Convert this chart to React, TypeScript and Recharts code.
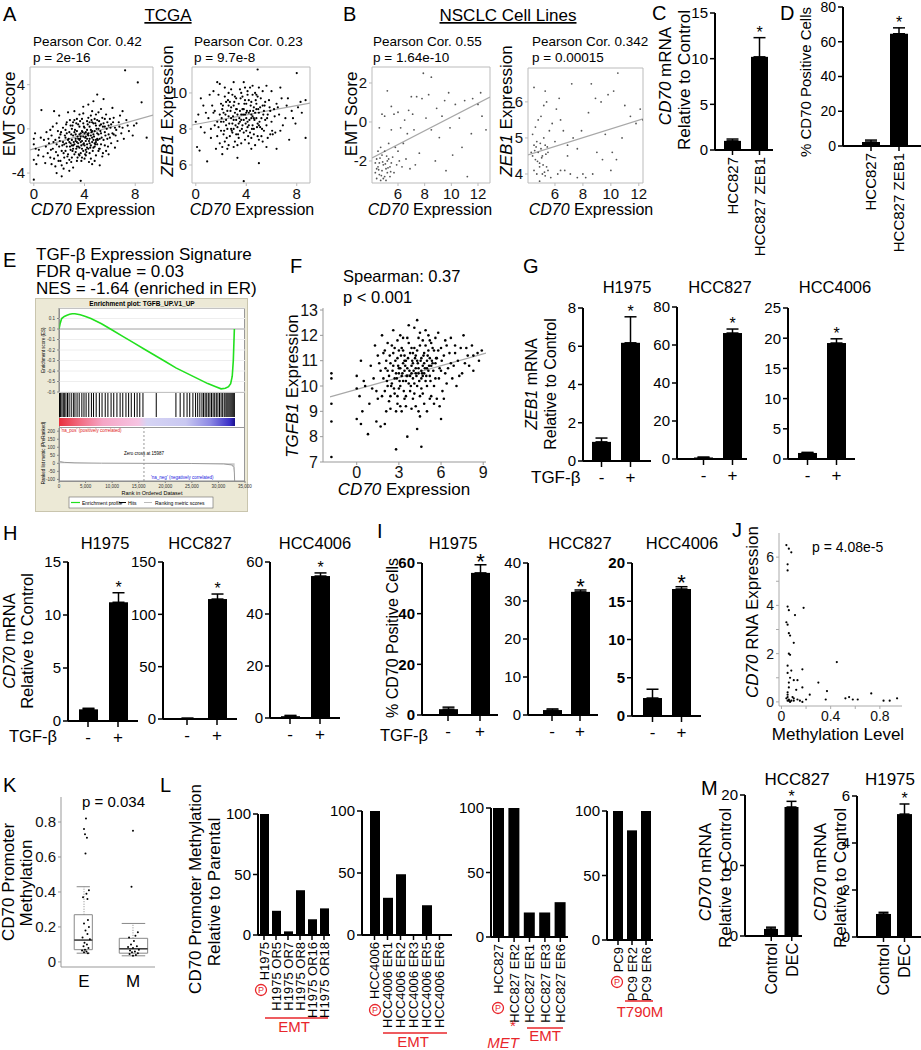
import React from "react";
import {
  Area,
  AreaChart,
  Bar,
  CartesianGrid,
  ComposedChart,
  ErrorBar,
  Line,
  LineChart,
  ReferenceArea,
  ReferenceLine,
  Scatter,
  ScatterChart,
  XAxis,
  YAxis,
} from "recharts";

const FONT = '"Liberation Sans", Arial, Helvetica, sans-serif';
const RED = "#e8262b";

type Pt = [number, number];
type Rect = { x0: number; y0: number; x1: number; y1: number };

// ---- A: TCGA ----
const tcgaEmt: Pt[] = [
  [7.2, 5.3], [8.2, 4.2], [8.5, 2.4], [0, -4.6], [0, -2.8], [3.7, -4.7], [0.6, 1.7], [1.6, 1.6], [8.9, -0.8], [5, 3.1],
  [5.5, 2.7], [4.6, -3.2], [5.2, -3.3], [2.2, -4.3], [1.8, -4], [0, -0.9], [0, -1.4], [0.1, -0.4], [7.9, 0.3], [6.2, 1.9],
  [6.8, 1.2], [7.5, -0.2], [7.3, 0.8], [8.1, 0.5], [6.4, -1.7], [5.9, -2.3], [0.9, -3.1], [1.4, -3.2], [2.8, -3.8], [1.1, -2.2],
  [0.4, -1.9], [1.3, -0.1], [1.8, 0.5], [2, 1.2], [3.2, 1.6], [3.6, 1.3], [4.3, 2.2], [4.7, 2.5], [3.9, 2.0], [2.7, 1.5],
  [2.1, -0.5], [2.3, -1.2], [2.5, -0.8], [2.6, -1.6], [2.8, -0.3], [2.9, -1.9], [3.0, -1.0], [3.1, -0.6], [3.2, -1.4], [3.3, -2.1],
  [3.4, -0.2], [3.5, -0.9], [3.6, -1.7], [3.7, -0.4], [3.8, -1.1], [3.9, -0.7], [4.0, -1.5], [4.1, -0.3], [4.2, -0.9], [4.3, -1.8],
  [4.4, 0.2], [4.5, -0.6], [4.6, -1.2], [4.7, 0.5], [4.8, -0.2], [4.9, -1.0], [5.0, 0.8], [5.1, -0.5], [5.2, 0.3], [5.3, -1.4],
  [5.4, 1.0], [5.6, -0.3], [5.8, 0.6], [6.0, -0.8], [6.1, 0.4], [6.3, 1.0], [6.5, -0.1], [6.7, 0.6], [7.0, 0.1], [7.1, -0.9],
  [1.5, -1.8], [1.7, -1.0], [1.9, -2.4], [2.0, -1.6], [2.2, -2.0], [2.4, -2.6], [2.5, -0.1], [2.7, -2.3], [2.9, 0.3], [3.0, -2.6],
  [3.1, 0.6], [3.3, -0.9], [3.4, -1.6], [3.5, 0.4], [3.6, -2.4], [3.7, -1.2], [3.8, 0.9], [3.9, -2.0], [4.0, 0.1], [4.1, -1.9],
  [4.2, 0.7], [4.3, -0.4], [4.4, -1.3], [4.5, 1.2], [4.6, -0.8], [4.7, -1.7], [4.8, 0.9], [4.9, -2.4], [5.0, -0.4], [5.1, 1.5],
  [5.2, -1.8], [5.3, 0.4], [5.5, -1.0], [5.7, 1.3], [5.9, -0.5], [6.0, 0.9], [1.2, -1.3], [1.4, -0.6], [1.6, -2.7], [1.8, -1.4],
  [2.0, -0.8], [2.1, -2.9], [2.3, 0.1], [2.4, -1.4], [2.6, 0.6], [2.7, -1.0], [2.8, -2.8], [3.0, 0.0], [3.1, -1.8], [3.2, 0.8],
  [3.3, -0.5], [3.4, -2.9], [3.5, -1.3], [3.6, 0.2], [3.7, -2.2], [3.8, -0.2], [3.9, 0.5], [4.0, -2.7], [4.1, -0.7], [4.2, -1.4],
  [4.3, 1.0], [4.4, -2.2], [4.5, -0.1], [4.6, 0.6], [4.7, -1.0], [4.8, -2.9], [4.9, 0.3], [5.0, -1.4], [5.1, 0.0], [5.2, -0.9],
  [5.4, -2.5], [5.5, 0.5], [5.6, -1.5], [5.8, -0.9], [6.2, -0.4], [6.6, -1.1], [0.8, -1.0], [1.0, -0.3], [1.3, -2.6], [1.5, 0.2],
  [1.7, -3.4], [1.9, -0.2], [2.2, -3.3], [2.5, -2.0], [2.6, -3.1], [2.9, -1.3], [3.1, -3.5], [3.2, -2.3], [3.4, 0.9], [3.6, -1.0],
  [3.8, -2.6], [3.9, 1.4], [4.1, -2.4], [4.2, -0.1], [4.4, 0.6], [4.5, -2.7], [4.6, 1.6], [4.8, -1.3], [4.9, 1.3], [5.1, -2.0],
  [5.3, 1.8], [5.6, 0.2], [5.7, -2.0], [6.1, -1.3], [6.4, 0.1], [6.9, -0.4],
  [2.05, -1.1], [2.15, -0.3], [2.35, -2.2], [2.45, -0.6], [2.55, -1.3], [2.65, -2.5], [2.75, -0.9], [2.85, -1.6], [2.95, -0.5], [3.05, -2.0],
  [3.15, -1.2], [3.25, -0.1], [3.35, -1.8], [3.45, -0.7], [3.55, -2.3], [3.65, -0.9], [3.75, -1.5], [3.85, -0.3], [3.95, -1.3], [4.05, -0.8],
  [4.15, -2.1], [4.25, -0.5], [4.35, -1.1], [4.45, -1.7], [4.55, -0.3], [4.65, -2.0], [4.75, -0.7], [4.85, -1.4], [4.95, 0.0], [5.05, -1.0],
  [5.15, -1.8], [5.25, -0.2], [5.35, -0.8], [5.45, 0.2], [5.65, -0.6], [5.85, -1.6], [6.05, 0.1], [6.25, 0.6], [6.45, -0.6], [6.75, 0.2],
  [2.25, -1.5], [2.55, 0.4], [2.85, 0.8], [3.05, 0.3], [3.35, 0.5], [3.65, 0.7], [3.95, 0.2], [4.25, 0.4], [4.55, 0.8], [4.85, 0.5],
  [5.15, 0.7], [5.45, -2.2], [5.75, 0.0], [3.45, -2.6], [3.75, -2.9], [4.05, -2.3], [4.35, -3.0], [2.95, -3.0], [2.35, -3.6], [1.95, -2.9],
  [1.75, -2.1], [1.55, -1.2], [1.35, -1.9], [1.15, -0.9], [0.95, -1.6], [0.75, -2.5], [0.55, -0.8], [0.35, -2.4], [0.15, -1.8], [0.2, -3.2],
  [3.1, -1.5], [3.3, -1.1], [3.5, -1.6], [3.7, -0.7], [3.9, -1.4], [4.1, -1.1], [4.3, -0.6], [4.5, -1.5], [4.7, -0.5], [4.9, -1.2],
  [3.2, -0.3], [3.4, -1.2], [3.6, -0.5], [3.8, -1.8], [4.0, -0.4], [4.2, -1.7], [4.4, -0.9], [4.6, -0.2], [4.8, -1.6], [5.0, -0.9],
  [2.6, -0.4], [2.8, -1.2], [3.0, -1.5], [5.3, -0.4], [5.6, 0.9], [5.9, 0.3], [6.3, -0.5], [7.4, 0.3], [7.8, -0.6], [7.0, 1.6],
];
const tcgaEmtFit = [-0.3, -1.91, 9.4, 1.25];

const tcgaZeb: Pt[] = [
  [3.8, 5.1], [0.9, 6.2], [5.0, 6.1], [4.9, 11.3], [8.0, 11.1], [8.7, 7.5], [0.4, 9.7], [0.0, 8.4], [1.7, 10.6], [1.9, 10.5],
  [6.7, 10.3], [7.3, 9.7], [8.3, 9.5], [8.7, 9.6], [0.1, 7.0], [0.3, 6.8], [2.8, 10.2], [3.0, 10.6], [3.8, 10.6], [4.5, 10.4],
  [6.4, 6.9], [7.4, 7.4], [5.6, 7.0], [3.3, 6.4], [2.1, 6.6], [1.2, 7.5],
  [1.5, 8.2], [1.7, 7.6], [1.9, 8.8], [2.0, 7.9], [2.1, 9.1], [2.2, 8.4], [2.3, 7.3], [2.4, 9.5], [2.5, 8.0], [2.6, 8.7],
  [2.7, 7.6], [2.8, 9.2], [2.9, 8.3], [3.0, 7.0], [3.1, 8.9], [3.2, 9.7], [3.3, 8.1], [3.4, 7.5], [3.5, 9.0], [3.6, 8.5],
  [3.7, 9.8], [3.8, 7.8], [3.9, 8.8], [4.0, 9.4], [4.1, 8.1], [4.2, 7.2], [4.3, 9.0], [4.4, 8.6], [4.5, 9.9], [4.6, 7.7],
  [4.7, 8.9], [4.8, 9.4], [4.9, 8.3], [5.0, 7.4], [5.1, 9.2], [5.2, 8.6], [5.3, 10.1], [5.4, 7.9], [5.5, 9.5], [5.7, 8.8],
  [1.0, 8.6], [1.3, 9.3], [1.6, 6.9], [1.8, 9.9], [2.0, 8.4], [2.2, 7.7], [2.3, 9.8], [2.5, 9.0], [2.6, 7.1], [2.8, 8.6],
  [2.9, 9.9], [3.0, 8.0], [3.1, 7.3], [3.2, 8.5], [3.4, 9.4], [3.5, 7.9], [3.6, 10.0], [3.7, 8.2], [3.8, 9.1], [3.9, 7.4],
  [4.0, 8.6], [4.1, 9.9], [4.2, 8.9], [4.3, 7.8], [4.4, 9.5], [4.5, 8.2], [4.6, 9.2], [4.7, 7.1], [4.8, 8.6], [4.9, 9.8],
  [5.0, 8.9], [5.2, 7.6], [5.4, 9.0], [5.6, 8.2], [5.8, 9.6], [6.0, 8.4], [6.2, 9.1], [6.3, 7.8], [6.6, 8.8], [6.9, 8.2],
  [0.4, 8.1], [0.7, 7.8], [1.1, 9.9], [1.4, 8.9], [1.7, 8.4], [2.0, 9.4], [2.1, 7.0], [2.4, 8.5], [2.7, 9.5], [2.9, 7.8],
  [3.0, 9.3], [3.2, 7.7], [3.3, 8.8], [3.5, 8.4], [3.6, 7.2], [3.7, 9.1], [3.9, 9.6], [4.0, 7.9], [4.1, 8.4], [4.2, 9.6],
  [4.4, 7.5], [4.5, 8.7], [4.6, 8.0], [4.8, 9.9], [4.9, 7.6], [5.1, 8.1], [5.3, 9.3], [5.5, 8.5], [5.7, 7.5], [5.9, 9.0],
  [6.1, 7.7], [6.4, 9.4], [6.8, 9.7], [7.1, 8.6], [7.6, 9.0], [7.9, 8.3], [8.4, 8.9], [5.0, 10.3], [4.3, 10.3], [2.6, 10.0],
  [2.05, 8.6], [2.15, 9.3], [2.25, 7.9], [2.35, 8.8], [2.45, 7.5], [2.55, 9.6], [2.65, 8.3], [2.75, 9.0], [2.85, 7.9], [2.95, 8.7],
  [3.05, 9.5], [3.15, 8.2], [3.25, 9.1], [3.35, 7.7], [3.45, 8.6], [3.55, 9.7], [3.65, 8.0], [3.75, 8.8], [3.85, 9.4], [3.95, 8.3],
  [4.05, 9.0], [4.15, 7.6], [4.25, 8.5], [4.35, 9.3], [4.45, 8.0], [4.55, 9.0], [4.65, 8.5], [4.75, 9.6], [4.85, 8.1], [4.95, 9.1],
  [5.05, 8.4], [5.15, 9.7], [5.25, 8.0], [5.35, 8.8], [5.45, 9.3], [5.65, 8.6], [5.85, 9.2], [6.05, 7.9], [6.25, 8.7], [6.5, 9.2],
  [2.2, 8.9], [2.4, 8.2], [2.6, 9.3], [2.8, 8.0], [3.0, 8.5], [3.2, 9.1], [3.4, 8.3], [3.6, 8.8], [3.8, 8.5], [4.0, 8.9],
  [4.2, 8.2], [4.4, 8.8], [4.6, 8.6], [4.8, 9.1], [5.0, 8.2], [3.1, 9.8], [3.5, 10.2], [4.1, 10.1], [4.7, 10.0], [3.9, 10.3],
  [1.2, 8.0], [1.5, 9.0], [1.8, 8.1], [0.8, 8.9], [0.6, 9.3], [0.2, 8.8], [1.9, 7.2], [2.5, 6.9], [3.3, 7.1], [4.4, 6.9],
  [5.3, 7.3], [5.9, 7.7], [6.7, 7.9], [7.2, 9.3], [7.7, 8.6], [8.1, 9.2], [6.0, 10.1], [5.6, 10.4], [2.3, 10.3], [1.4, 10.1],
];
const tcgaZebFit = [-0.3, 8.22, 9.05, 9.44];

// ---- B: NSCLC cell lines ----
const nsclcEmt: Pt[] = [
  [4.3, -2.6], [4.4, -2.9], [4.5, -2.3], [4.6, -2.7], [4.7, -3.0], [4.8, -2.5], [4.9, -2.2], [5.0, -2.8], [5.1, -2.4], [5.2, -2.6],
  [5.3, -1.9], [5.4, -2.3], [5.5, -2.1], [5.6, -1.8], [4.6, -2.1], [4.8, -1.7], [5.0, -1.5], [5.2, -2.0], [4.5, -1.5], [4.4, -1.9],
  [5.7, -2.6], [5.9, -2.2], [6.0, -1.5], [4.9, -2.9], [5.1, -3.0], [5.4, -2.8], [4.3, -2.1], [5.8, -1.3], [4.7, -1.3], [5.3, -1.1],
  [4.8, 0.4], [5.0, 0.3], [4.6, -0.3], [5.2, 1.6], [5.5, 0.8], [5.7, 0.4], [6.2, -0.3], [6.5, 0.1], [6.8, 0.6], [7.2, -0.4],
  [7.0, 1.3], [7.4, 1.3], [7.9, 2.5], [8.5, 2.3], [8.9, 0.7], [9.1, -0.8], [9.3, 0.3], [9.8, 1.5], [10.3, 0.9], [10.6, 0.2],
  [11.0, 1.1], [11.5, -0.6], [12.0, 0.9], [12.6, -0.4], [12.3, 0.3], [11.2, -2.8], [10.1, -1.7], [9.6, -2.5], [8.5, -0.4], [8.1, 0.2],
  [7.6, -1.6], [7.3, -2.2], [6.9, -2.4], [6.6, -1.9], [6.3, -2.3], [8.8, -2.0], [9.9, -0.3], [10.8, -1.3], [7.8, 1.2], [6.0, 0.5],
  [5.5, -0.4], [6.4, -1.1], [8.3, 1.4], [9.5, 1.1], [11.6, 1.2], [12.2, 1.5], [4.55, -2.45], [4.75, -2.75], [5.05, -2.15], [5.25, -2.35],
  [4.65, -1.85], [4.85, -2.05], [5.15, -1.75], [4.4, -2.4], [5.45, -2.55], [6.1, -2.0], [6.7, -0.6], [7.1, 0.4],
];
const nsclcEmtFit = [4.05, -1.85, 12.9, 1.28];

const nsclcZeb: Pt[] = [
  [4.3, 4.6], [4.4, 4.5], [4.5, 4.8], [4.6, 4.4], [4.7, 4.9], [4.8, 4.6], [4.9, 4.3], [5.0, 4.7], [5.1, 4.5], [5.2, 5.0],
  [5.3, 4.8], [5.4, 4.2], [5.5, 4.6], [5.6, 5.2], [4.5, 4.1], [4.7, 4.0], [4.9, 4.2], [5.1, 4.0], [5.3, 3.95], [5.5, 4.1],
  [4.4, 5.1], [4.6, 5.3], [4.8, 5.5], [5.0, 5.6], [5.2, 5.9], [5.4, 6.0], [4.5, 6.4], [5.3, 6.3], [5.8, 5.4], [6.0, 4.9],
  [6.2, 4.0], [6.4, 4.1], [6.7, 4.1], [6.9, 4.5], [7.1, 4.0], [6.1, 5.8], [6.4, 5.5], [6.6, 5.2], [6.9, 4.8], [7.3, 5.0],
  [7.6, 4.7], [8.0, 4.0], [8.2, 3.9], [8.7, 4.0], [9.0, 4.6], [9.4, 4.4], [8.4, 5.7], [8.9, 6.1], [9.3, 6.0], [9.8, 6.2],
  [10.2, 6.3], [10.5, 6.8], [9.6, 5.1], [10.1, 4.6], [10.4, 4.4], [11.0, 5.9], [11.4, 5.6], [11.8, 5.4], [12.1, 5.8], [12.3, 5.5],
  [10.8, 5.0], [7.9, 5.2], [7.2, 6.5], [6.3, 6.1], [8.6, 6.5], [4.9, 3.8], [5.7, 3.9], [7.6, 3.9], [10.0, 4.1], [4.55, 4.65],
  [4.75, 4.35], [4.95, 4.85], [5.15, 4.25], [5.35, 4.55], [4.65, 4.75], [5.05, 4.45], [5.25, 4.05], [5.45, 4.75],
];
const nsclcZebFit = [4.07, 4.53, 12.3, 5.53];

// ---- C / D ----
const zebCats = ["HCC827", "HCC827 ZEB1"];
const cMean = [1.0, 10.2];
const cErr = [0.2, 2.1];
const dMean = [2.3, 64.6];
const dErr = [1.1, 3.4];
const zebStars = [false, true];

// ---- E: GSEA ----
const esRank = [0, 200, 500, 1000, 1500, 2000, 2500, 3000, 4000, 5000, 6000, 8000, 10000, 12000, 14000, 16000, 18000, 20000, 22000, 24000, 26000, 28000, 29500, 30500, 31300, 31900, 32300, 32600, 32800, 33000];
const esScore = [0, 0.05, 0.1, 0.12, 0.13, 0.14, 0.145, 0.145, 0.135, 0.12, 0.1, 0.05, -0.01, -0.07, -0.13, -0.19, -0.25, -0.31, -0.37, -0.42, -0.47, -0.52, -0.55, -0.57, -0.565, -0.55, -0.52, -0.45, -0.3, 0];
const hitRanks = [100, 300, 550, 800, 1000, 1300, 1600, 1900, 2300, 2700, 3000, 3400, 3800, 4300, 4700, 5100, 5600, 6100, 6500, 7000, 7600, 8100, 8700, 9200, 9800, 10300, 10900, 11500, 12000, 12600, 13100, 13600, 14200, 14700, 15200, 15800, 18300, 22000, 22800, 23500, 24100, 24600, 25200, 25700, 26100, 26500, 26900, 27200, 27500, 27800, 28100, 28400, 28700, 29000, 29300, 29600, 29900, 30200, 30500, 30800, 31100, 31400, 31600, 31800, 32000, 32200, 32400, 32600, 32800, 33000];
const metricRank = [0, 300, 1000, 3000, 8000, 15987, 25000, 31000, 32500, 32900, 33000, 33050];
const metricVal = [18, 10, 6, 3, 1, 0, -1, -4, -10, -25, -60, -110];
const rankTicks = [0, 5000, 10000, 15000, 20000, 25000, 30000, 35000];

// ---- F ----
const tgfbPts: Pt[] = [
  [-1.8, 7.2], [-1.8, 8.6], [-1.8, 9.3], [-1.8, 10.3], [-1.8, 10.5], [0.3, 8.5], [0.0, 8.7], [0.8, 8.1], [1.4, 8.6], [2.8, 7.5],
  [4.6, 7.6], [4.3, 8.3], [3.6, 8.0], [2.0, 8.5], [1.7, 8.4], [0.0, 10.4], [0.0, 9.9], [0.3, 11.0], [1.3, 11.6], [1.8, 12.0],
  [2.6, 12.2], [3.1, 12.0], [4.1, 12.3], [4.5, 12.1], [5.1, 12.0], [5.6, 11.9], [6.3, 11.8], [7.0, 11.6], [7.6, 12.0], [8.2, 11.6],
  [8.7, 11.0], [8.3, 10.6], [7.7, 10.9], [6.8, 10.3], [5.9, 9.2], [6.0, 8.7], [0.2, 9.6], [0.9, 9.3], [0.5, 10.2], [1.0, 10.8],
  [1.9, 10.3], [2.0, 9.8], [2.1, 11.0], [2.2, 10.6], [2.3, 9.4], [2.4, 10.9], [2.5, 10.1], [2.6, 11.3], [2.7, 9.7], [2.8, 10.5],
  [2.9, 11.1], [3.0, 9.9], [3.1, 10.7], [3.2, 11.5], [3.3, 10.2], [3.4, 9.5], [3.5, 11.0], [3.6, 10.4], [3.7, 11.7], [3.8, 9.8],
  [3.9, 10.8], [4.0, 11.3], [4.1, 10.1], [4.2, 9.2], [4.3, 11.0], [4.4, 10.5], [4.5, 11.6], [4.6, 9.9], [4.7, 10.8], [4.8, 11.3],
  [4.9, 10.2], [5.0, 11.0], [5.1, 10.6], [5.2, 11.8], [5.3, 9.6], [5.4, 10.9], [5.5, 11.4], [5.6, 10.3], [5.7, 11.1], [5.9, 10.7],
  [1.6, 10.9], [1.8, 9.6], [2.0, 11.4], [2.2, 10.0], [2.4, 9.1], [2.5, 11.6], [2.7, 10.3], [2.9, 9.3], [3.0, 11.4], [3.1, 10.0],
  [3.3, 10.9], [3.4, 11.2], [3.5, 9.2], [3.6, 11.9], [3.7, 10.1], [3.9, 10.5], [4.0, 9.5], [4.1, 11.5], [4.2, 10.7], [4.3, 10.0],
  [4.4, 11.9], [4.5, 9.6], [4.6, 11.1], [4.7, 10.4], [4.8, 9.3], [4.9, 11.6], [5.0, 10.0], [5.1, 11.4], [5.2, 10.4], [5.4, 11.5],
  [5.6, 10.9], [5.8, 11.4], [6.0, 10.6], [6.2, 11.2], [6.4, 10.1], [6.6, 11.3], [6.9, 10.8], [7.2, 11.0], [7.5, 10.5], [7.9, 11.2],
  [1.2, 10.3], [1.4, 9.8], [1.7, 10.6], [2.1, 9.0], [2.3, 10.4], [2.6, 10.8], [2.8, 9.0], [3.0, 10.5], [3.2, 9.0], [3.4, 10.6],
  [3.5, 10.2], [3.8, 11.3], [4.0, 10.3], [4.2, 11.2], [4.4, 9.0], [4.6, 10.6], [4.8, 10.9], [5.0, 9.0], [5.3, 10.8], [5.5, 10.0],
  [5.7, 9.5], [6.1, 9.8], [6.5, 10.7], [7.1, 10.0], [7.4, 11.5], [8.0, 10.8], [8.6, 11.3], [3.7, 12.4], [4.3, 12.6], [2.9, 11.8],
  [3.3, 11.9], [4.9, 12.2], [5.8, 12.1], [6.4, 11.6], [0.6, 10.0], [1.5, 11.2],
  [2.05, 10.7], [2.15, 10.2], [2.35, 11.2], [2.45, 10.0], [2.55, 10.6], [2.65, 9.9], [2.75, 11.0], [2.85, 10.3], [2.95, 10.8], [3.05, 10.2],
  [3.15, 11.2], [3.25, 10.5], [3.35, 9.8], [3.45, 10.8], [3.55, 10.4], [3.65, 11.1], [3.75, 10.6], [3.85, 10.0], [3.95, 11.0], [4.05, 10.6],
  [4.15, 11.1], [4.25, 10.4], [4.35, 10.9], [4.45, 10.2], [4.55, 11.0], [4.65, 10.5], [4.75, 11.2], [4.85, 10.7], [4.95, 10.4], [5.05, 11.2],
  [5.15, 10.8], [5.25, 10.2], [5.35, 11.0], [5.45, 10.6], [5.65, 11.1], [5.85, 10.3], [6.05, 11.0], [6.3, 10.5], [6.7, 10.9], [7.0, 11.3],
  [3.0, 10.7], [3.2, 10.4], [3.4, 11.0], [3.6, 10.7], [3.8, 10.4], [4.0, 10.9], [4.2, 10.5], [4.4, 10.7], [4.6, 10.3], [4.8, 10.5],
  [5.0, 10.7], [5.2, 11.1], [3.9, 11.5], [4.3, 11.4], [4.7, 11.8], [3.3, 11.4], [2.7, 11.5], [5.3, 11.7], [6.0, 11.5], [6.7, 11.9],
  [2.4, 9.6], [2.9, 9.6], [3.5, 9.6], [4.1, 9.7], [4.7, 9.7], [5.2, 9.5], [3.1, 9.2], [3.9, 9.1], [4.5, 8.8], [5.5, 9.3],
  [1.5, 9.5], [1.1, 9.9], [1.9, 11.3], [2.2, 11.7], [7.3, 10.4], [7.8, 11.5], [8.3, 11.2], [8.9, 11.4], [6.2, 9.5], [0.4, 9.0],
];
const tgfbFit = [-1.9, 9.57, 9.2, 11.3];

// ---- G / H / I ----
const tgfCats = ["-", "+"];
const tgfStars = [false, true];
const zebH1975 = [1.0, 6.18];
const zebH1975Err = [0.2, 1.36];
const zebHcc827 = [0.8, 66.3];
const zebHcc827Err = [0.2, 2.1];
const zebHcc4006 = [1.0, 19.2];
const zebHcc4006Err = [0.1, 0.7];
const cd70H1975 = [1.1, 11.2];
const cd70H1975Err = [0.1, 0.9];
const cd70Hcc827 = [0.5, 114.6];
const cd70Hcc827Err = [0.3, 4.8];
const cd70Hcc4006 = [0.7, 54.6];
const cd70Hcc4006Err = [0.3, 1.2];
const posH1975 = [2.3, 56.1];
const posH1975Err = [0.8, 3.2];
const posHcc827 = [1.3, 32.4];
const posHcc827Err = [0.3, 0.5];
const posHcc4006 = [2.35, 16.6];
const posHcc4006Err = [1.15, 0.3];

// ---- J ----
const methPts: Pt[] = [
  [0.04, 6.5], [0.06, 6.35], [0.08, 6.2], [0.05, 5.7], [0.05, 5.45], [0.05, 3.95], [0.06, 3.8], [0.04, 3.3], [0.05, 3.2], [0.11, 3.6],
  [0.18, 3.9], [0.06, 2.85], [0.07, 2.75], [0.1, 2.45], [0.06, 2.0], [0.07, 1.95], [0.05, 1.5], [0.05, 1.2], [0.08, 1.3], [0.1, 0.9],
  [0.13, 0.9], [0.17, 1.35], [0.45, 1.65], [0.3, 0.8], [0.17, 0.6], [0.12, 0.5], [0.06, 0.6], [0.05, 0.4], [0.05, 0.2], [0.06, 0.1],
  [0.08, 0.05], [0.1, 0.05], [0.07, 0.0], [0.15, 0.05], [0.2, 0.1], [0.23, 0.3], [0.37, 0.45], [0.36, 0.1], [0.52, 0.15], [0.55, 0.2],
  [0.58, 0.1], [0.62, 0.1], [0.73, 0.35], [0.83, 0.05], [0.88, 0.05], [0.94, 0.15], [0.05, 0.05], [0.04, 0.15], [0.09, 0.2], [0.13, 0.1],
  [0.17, 0.0], [0.06, 0.8], [0.07, 1.0], [0.05, 0.3], [0.1, 0.15], [0.06, 0.05],
];

// ---- K ----
const kEPts: Pt[] = [
  [1.04, 0.82], [1.0, 0.76], [1.02, 0.73], [1.06, 0.71], [1.03, 0.62], [1.1, 0.41], [1.05, 0.39], [0.98, 0.37], [1.07, 0.36], [1.08, 0.24],
  [1.0, 0.22], [1.1, 0.2], [1.03, 0.18], [1.07, 0.16], [0.97, 0.14], [1.12, 0.13], [1.01, 0.11], [1.06, 0.1], [0.99, 0.09], [1.09, 0.08],
  [1.02, 0.07], [0.96, 0.065], [1.05, 0.06], [1.0, 0.055], [1.08, 0.05],
];
const kMPts: Pt[] = [
  [2.0, 0.75], [1.97, 0.43], [2.1, 0.17], [2.05, 0.15], [1.92, 0.14], [2.02, 0.12], [1.96, 0.1], [2.08, 0.09], [1.9, 0.085], [2.0, 0.08],
  [2.12, 0.07], [1.94, 0.065], [2.04, 0.06], [1.98, 0.055], [2.1, 0.05], [1.93, 0.045], [2.06, 0.04], [2.0, 0.035],
];
// lower whisker, q1, median, q3, upper whisker
const kEBox = [0.05, 0.07, 0.125, 0.27, 0.43];
const kMBox = [0.035, 0.05, 0.075, 0.135, 0.22];

// ---- L ----
const l1Cats = ["H1975", "H1975 OR5", "H1975 OR7", "H1975 OR8", "H1975 OR16", "H1975 OR18"];
const l1Vals = [100, 20, 3, 37, 13, 22];
const l2Cats = ["HCC4006", "HCC4006 ER1", "HCC4006 ER2", "HCC4006 ER3", "HCC4006 ER5", "HCC4006 ER6"];
const l2Vals = [100, 30, 49, 0, 24, 0];
const l3Cats = ["HCC827", "HCC827 ER2", "HCC827 ER1", "HCC827 ER3", "HCC827 ER6"];
const l3Vals = [100, 100, 19, 19, 27];
const l4Cats = ["PC9", "PC9 ER2", "PC9 ER6"];
const l4Vals = [100, 85, 100];

// ---- M ----
const decCats = ["Control", "DEC"];
const decStars = [false, true];
const decHcc827 = [1.0, 18.3];
const decHcc827Err = [0.25, 0.8];
const decH1975 = [0.98, 5.23];
const decH1975Err = [0.07, 0.43];

function box(r: Rect, aw: number, ah: number, tp: number, rp: number, bp = 0) {
  return {
    left: r.x0 - aw,
    top: r.y0 - tp,
    width: r.x1 - r.x0 + aw + rp,
    height: r.y1 - r.y0 + tp + ah + bp,
    margin: { top: tp, right: rp, bottom: bp, left: 0 },
  };
}

function ScatterPanel(props: {
  r: Rect;
  pts: Pt[];
  xd: [number, number];
  yd: [number, number];
  xt: number[];
  yt: number[];
  fit?: number[];
  rad?: number;
  fill?: string;
  frame?: boolean;
  line?: string;
  font?: number;
  xf?: (v: number) => string;
  yf?: (v: number) => string;
}) {
  const { r, pts, xd, yd, xt, yt, fit, rad = 1.1, fill = "#000", frame = true, line = "#bbb", font = 15, xf, yf } = props;
  const aw = 36;
  const ah = 24;
  const b = box(r, aw, ah, 10, 6);
  const data = pts.map(([x, y]) => ({ x, y }));
  const axisLine = frame ? false : { stroke: line, strokeWidth: 1 };
  return (
    <div style={{ position: "absolute", left: b.left, top: b.top }}>
      <ScatterChart width={b.width} height={b.height} margin={b.margin}>
        <XAxis
          type="number"
          dataKey="x"
          domain={xd}
          ticks={xt}
          interval={0}
          allowDataOverflow
          height={ah}
          axisLine={axisLine}
          tickLine={{ stroke: line }}
          tickSize={3}
          tick={{ fill: "#111", fontSize: font }}
          tickFormatter={xf}
        />
        <YAxis
          type="number"
          dataKey="y"
          domain={yd}
          ticks={yt}
          interval={0}
          allowDataOverflow
          width={aw}
          axisLine={axisLine}
          tickLine={{ stroke: line }}
          tickSize={3}
          tick={{ fill: "#111", fontSize: font }}
          tickFormatter={yf}
        />
        {frame && (
          <ReferenceArea x1={xd[0]} x2={xd[1]} y1={yd[0]} y2={yd[1]} fill="none" stroke={line} ifOverflow="visible" />
        )}
        {fit && (
          <ReferenceLine
            segment={[
              { x: fit[0], y: fit[1] },
              { x: fit[2], y: fit[3] },
            ]}
            stroke="#a8a8a8"
            strokeWidth={1.2}
            ifOverflow="hidden"
          />
        )}
        <Scatter
          data={data}
          isAnimationActive={false}
          shape={(p: any) => <circle cx={p.cx} cy={p.cy} r={rad} fill={fill} />}
        />
      </ScatterChart>
    </div>
  );
}

function BarShape(props: any) {
  const { x, y, width, height, payload, sf } = props;
  if (!(height > 0)) return <g />;
  const topY = payload.v > 0 ? y - (payload.err * height) / payload.v : y;
  return (
    <g>
      <rect x={x} y={y} width={width} height={height} fill="#000" />
      {payload.star && (
        <text x={x + width / 2} y={topY + sf * 0.58 - 9} textAnchor="middle" fontSize={sf} fill="#000">
          *
        </text>
      )}
    </g>
  );
}

function SignTick(props: any) {
  const { x, y, payload } = props;
  return (
    <text x={x} y={y + 14} textAnchor="middle" fontSize={17} fill="#000">
      {payload.value}
    </text>
  );
}

function RotTick(props: any) {
  const { x, y, payload, fs } = props;
  return (
    <text x={x} y={y} dy="0.36em" transform={`rotate(-90 ${x} ${y})`} textAnchor="end" fontSize={fs} fill="#000">
      {payload.value}
    </text>
  );
}

function BarPanel(props: {
  r: Rect;
  cats: string[];
  vals: number[];
  errs?: number[];
  stars?: boolean[];
  max: number;
  ticks: number[];
  bw: number;
  pad?: [number, number];
  signs?: boolean;
  lf?: number;
  tf?: number;
  bold?: boolean;
  sf?: number;
}) {
  const { r, cats, vals, errs, stars, max, ticks, bw, pad = [0, 0], signs = false, lf = 15, tf = 15, bold = false, sf = 16 } = props;
  const data = cats.map((c, i) => ({
    name: c,
    v: vals[i],
    err: errs ? errs[i] : 0,
    e: [0, errs ? errs[i] : 0],
    star: stars ? stars[i] : false,
  }));
  const aw = 44;
  const ah = signs ? 34 : 110;
  const b = box(r, aw, ah, Math.min(26, r.y0), 4);
  const axis = { stroke: "#000", strokeWidth: 2 };
  const tl = { stroke: "#000", strokeWidth: 1.5 };
  return (
    <div style={{ position: "absolute", left: b.left, top: b.top }}>
      <ComposedChart width={b.width} height={b.height} data={data} margin={b.margin}>
        <XAxis
          dataKey="name"
          type="category"
          interval={0}
          height={ah}
          padding={{ left: pad[0], right: pad[1] }}
          axisLine={axis}
          tickLine={tl}
          tickSize={signs ? 6 : 5}
          tick={signs ? <SignTick /> : <RotTick fs={lf} />}
        />
        <YAxis
          type="number"
          domain={[0, max]}
          ticks={ticks}
          interval={0}
          width={aw}
          axisLine={axis}
          tickLine={tl}
          tickSize={5}
          tick={{ fill: "#000", fontSize: tf, fontWeight: bold ? 700 : 400 }}
        />
        <Bar
          dataKey="v"
          barSize={bw}
          fill="#000"
          isAnimationActive={false}
          shape={(p: any) => <BarShape {...p} sf={sf} />}
        >
          {errs && <ErrorBar dataKey="e" width={Math.round(bw * 0.33)} stroke="#000" strokeWidth={1.5} />}
        </Bar>
      </ComposedChart>
    </div>
  );
}

function GseaPanel() {
  const esData = esRank.map((r, i) => ({ r, es: esScore[i] }));
  const hitData = hitRanks.map((r) => ({ r, y: 22 }));
  const metricData = metricRank.map((r, i) => ({ r, m: metricVal[i] }));
  const b1 = box({ x0: 59, y0: 308, x1: 245, y1: 392 }, 22, 0, 4, 0, 4);
  const b2 = box({ x0: 59, y0: 393, x1: 245, y1: 427 }, 0, 0, 0, 0);
  const b3 = box({ x0: 59, y0: 428, x1: 245, y1: 481 }, 22, 10, 0, 10);
  const tiny = { fill: "#333", fontSize: 4.5 };
  const frame = (l: number, t: number, w: number, h: number) => (
    <div
      style={{
        position: "absolute",
        left: l,
        top: t,
        width: w,
        height: h,
        background: "#fff",
        boxSizing: "border-box",
        border: "1px solid #999",
      }}
    />
  );
  return (
    <>
      <div
        style={{
          position: "absolute",
          left: 35,
          top: 298,
          width: 213,
          height: 214,
          background: "#ece9d6",
          boxSizing: "border-box",
          border: "1px solid #c9c5ae",
        }}
      />
      {frame(59, 308, 186, 85)}
      {frame(59, 392, 186, 36)}
      {frame(59, 427, 186, 55)}
      <div
        style={{
          position: "absolute",
          left: 59,
          top: 418,
          width: 176,
          height: 8,
          background:
            "linear-gradient(to right, #e8303c 0%, #f26c82 12%, #f5a6c6 25%, #f6c4e2 45%, #d6d4f4 50%, #c9c8f1 72%, #8c88e4 86%, #3a30c8 97%, #1a108a 100%)",
        }}
      />
      <div style={{ position: "absolute", left: b1.left, top: b1.top }}>
        <LineChart width={b1.width} height={b1.height} margin={b1.margin} data={esData}>
          <CartesianGrid stroke="#eeeeee" vertical={false} />
          <XAxis type="number" dataKey="r" domain={[0, 35000]} hide allowDataOverflow />
          <YAxis
            type="number"
            domain={[-0.6, 0.2]}
            ticks={[0.1, 0, -0.1, -0.2, -0.3, -0.4, -0.5, -0.6]}
            interval={0}
            width={22}
            tick={tiny}
            tickSize={2}
            axisLine={{ stroke: "#888" }}
            tickLine={{ stroke: "#888" }}
            tickFormatter={(v: number) => v.toFixed(1)}
            allowDataOverflow
          />
          <ReferenceLine y={0} stroke="#aaa" />
          <Line type="linear" dataKey="es" stroke="#22e01e" strokeWidth={1.6} dot={false} isAnimationActive={false} />
        </LineChart>
      </div>
      <div style={{ position: "absolute", left: b2.left, top: b2.top }}>
        <ScatterChart width={b2.width} height={b2.height} margin={b2.margin}>
          <XAxis type="number" dataKey="r" domain={[0, 35000]} hide allowDataOverflow />
          <YAxis type="number" dataKey="y" domain={[0, 34]} hide allowDataOverflow />
          <Scatter
            data={hitData}
            isAnimationActive={false}
            shape={(p: any) => <line x1={p.cx} x2={p.cx} y1={p.cy - 12} y2={p.cy + 12} stroke="#000" strokeWidth={1} />}
          />
        </ScatterChart>
      </div>
      <div style={{ position: "absolute", left: b3.left, top: b3.top }}>
        <AreaChart width={b3.width} height={b3.height} margin={b3.margin} data={metricData}>
          <XAxis
            type="number"
            dataKey="r"
            domain={[0, 35000]}
            ticks={rankTicks}
            interval={0}
            height={10}
            tick={tiny}
            tickSize={2}
            axisLine={{ stroke: "#888" }}
            tickLine={{ stroke: "#888" }}
            tickFormatter={(v: number) => v.toLocaleString("en-US")}
            allowDataOverflow
          />
          <YAxis
            type="number"
            domain={[-110, 220]}
            ticks={[200, 150, 100, 50, 0, -50, -100]}
            interval={0}
            width={22}
            tick={tiny}
            tickSize={2}
            axisLine={{ stroke: "#888" }}
            tickLine={{ stroke: "#888" }}
            allowDataOverflow
          />
          <ReferenceLine x={15987} stroke="#999" strokeDasharray="2 2" />
          <Area type="linear" dataKey="m" stroke="#999" fill="#c8c8c8" fillOpacity={1} isAnimationActive={false} />
        </AreaChart>
      </div>
    </>
  );
}

function KPanel() {
  const r = { x0: 61, y0: 797, x1: 155, y1: 967 };
  const aw = 40;
  const ah = 30;
  const b = box(r, aw, ah, 8, 4);
  const pts = [...kEPts, ...kMPts].map(([x, y]) => ({ x, y }));
  const gray = "#888";
  const boxOf = (s: number[], xl: number, xr: number, xc: number) => (
    <>
      <ReferenceLine segment={[{ x: xc, y: s[3] }, { x: xc, y: s[4] }]} stroke={gray} strokeDasharray="1 1.5" />
      <ReferenceLine segment={[{ x: xc, y: s[0] }, { x: xc, y: s[1] }]} stroke={gray} strokeDasharray="1 1.5" />
      <ReferenceLine segment={[{ x: xl + 0.05, y: s[4] }, { x: xr - 0.05, y: s[4] }]} stroke={gray} />
      <ReferenceLine segment={[{ x: xl + 0.05, y: s[0] }, { x: xr - 0.05, y: s[0] }]} stroke={gray} />
      <ReferenceArea x1={xl} x2={xr} y1={s[1]} y2={s[3]} fill="none" stroke={gray} ifOverflow="visible" />
      <ReferenceLine segment={[{ x: xl, y: s[2] }, { x: xr, y: s[2] }]} stroke="#333" strokeWidth={1.5} />
    </>
  );
  return (
    <div style={{ position: "absolute", left: b.left, top: b.top }}>
      <ScatterChart width={b.width} height={b.height} margin={b.margin}>
        <XAxis
          type="number"
          dataKey="x"
          domain={[0.53, 2.45]}
          ticks={[1, 2]}
          interval={0}
          allowDataOverflow
          height={ah}
          axisLine={{ stroke: "#999" }}
          tickLine={false}
          tick={{ fill: "#000", fontSize: 17 }}
          tickFormatter={(v: number) => (v === 1 ? "E" : "M")}
        />
        <YAxis
          type="number"
          dataKey="y"
          domain={[-0.029, 0.943]}
          ticks={[0, 0.2, 0.4, 0.6, 0.8]}
          interval={0}
          allowDataOverflow
          width={aw}
          axisLine={{ stroke: "#999" }}
          tickLine={{ stroke: "#999" }}
          tickSize={3}
          tick={{ fill: "#111", fontSize: 15 }}
        />
        {boxOf(kEBox, 0.8, 1.17, 1.0)}
        {boxOf(kMBox, 1.72, 2.3, 2.0)}
        <Scatter
          data={pts}
          isAnimationActive={false}
          shape={(p: any) => <circle cx={p.cx} cy={p.cy} r={1} fill="#000" />}
        />
      </ScatterChart>
    </div>
  );
}

function Txt(props: {
  x: number;
  y: number;
  s?: number;
  a?: "start" | "middle" | "end";
  rot?: boolean;
  fill?: string;
  w?: number;
  u?: boolean;
  children: React.ReactNode;
}) {
  const { x, y, s = 16, a = "start", rot = false, fill = "#000", w, u, children } = props;
  return (
    <text
      x={x}
      y={y}
      fontSize={s}
      textAnchor={rot ? "middle" : a}
      fill={fill}
      fontWeight={w}
      style={u ? { textDecoration: "underline" } : undefined}
      transform={rot ? `rotate(-90 ${x} ${y})` : undefined}
    >
      {children}
    </text>
  );
}

const It = ({ children }: { children: React.ReactNode }) => <tspan fontStyle="italic">{children}</tspan>;

function PMark({ x, y }: { x: number; y: number }) {
  return (
    <g>
      <circle cx={x} cy={y} r={5.5} fill="#fff" stroke={RED} strokeWidth={1.3} />
      <text x={x} y={y + 3.3} fontSize={9} textAnchor="middle" fill={RED}>
        P
      </text>
    </g>
  );
}

function Overlay() {
  return (
    <svg width={921} height={1050} style={{ position: "absolute", left: 0, top: 0, pointerEvents: "none" }}>
      {/* panel letters */}
      <Txt x={3} y={21} s={20}>A</Txt>
      <Txt x={343} y={21} s={20}>B</Txt>
      <Txt x={652} y={20} s={20}>C</Txt>
      <Txt x={780} y={20} s={20}>D</Txt>
      <Txt x={3} y={267} s={20}>E</Txt>
      <Txt x={290} y={273} s={20}>F</Txt>
      <Txt x={523} y={273} s={20}>G</Txt>
      <Txt x={3} y={540} s={20}>H</Txt>
      <Txt x={377} y={538} s={20}>I</Txt>
      <Txt x={732} y={537} s={20}>J</Txt>
      <Txt x={3} y={792} s={20}>K</Txt>
      <Txt x={160} y={792} s={20}>L</Txt>
      <Txt x={701} y={795} s={20}>M</Txt>

      {/* A / B */}
      <Txt x={168} y={21} s={17} a="middle" u>TCGA</Txt>
      <Txt x={508} y={21} s={17} a="middle" u>NSCLC Cell Lines</Txt>
      <Txt x={33} y={46} s={13.5}>Pearson Cor. 0.42</Txt>
      <Txt x={33} y={62} s={13.5}>p = 2e-16</Txt>
      <Txt x={194} y={46} s={13.5}>Pearson Cor. 0.23</Txt>
      <Txt x={194} y={62} s={13.5}>p = 9.7e-8</Txt>
      <Txt x={373} y={46} s={13.5}>Pearson Cor. 0.55</Txt>
      <Txt x={373} y={62} s={13.5}>p = 1.64e-10</Txt>
      <Txt x={532} y={46} s={13.5}>Pearson Cor. 0.342</Txt>
      <Txt x={532} y={62} s={13.5}>p = 0.00015</Txt>
      <Txt x={15} y={114} s={17} rot>EMT Score</Txt>
      <Txt x={173} y={111} s={17} rot><It>ZEB1</It> Expression</Txt>
      <Txt x={357} y={114} s={17} rot>EMT Score</Txt>
      <Txt x={512} y={111} s={17} rot><It>ZEB1</It> Expression</Txt>
      <Txt x={93} y={215} s={16} a="middle"><It>CD70</It> Expression</Txt>
      <Txt x={252} y={215} s={16} a="middle"><It>CD70</It> Expression</Txt>
      <Txt x={430} y={215} s={16} a="middle"><It>CD70</It> Expression</Txt>
      <Txt x={591} y={215} s={16} a="middle"><It>CD70</It> Expression</Txt>

      {/* C / D */}
      <Txt x={671} y={76} s={17} rot><It>CD70</It> mRNA</Txt>
      <Txt x={690} y={80} s={17} rot>Relative to Control</Txt>
      <Txt x={811} y={82} s={15} rot>% CD70 Positive Cells</Txt>

      {/* E */}
      <Txt x={36} y={260} s={17}>TGF-β Expression Signature</Txt>
      <Txt x={36} y={277} s={17}>FDR q-value = 0.03</Txt>
      <Txt x={36} y={294} s={17}>NES = -1.64 (enriched in ER)</Txt>
      <Txt x={142} y={306} s={6.5} a="middle" w={700}>Enrichment plot: TGFB_UP.V1_UP</Txt>
      <Txt x={45} y={350} s={4.5} rot>Enrichment score (ES)</Txt>
      <Txt x={45} y={453} s={4.5} rot>Ranked list metric (PreRanked)</Txt>
      <Txt x={61} y={432} s={4.5} fill="#e02020">'na_pos' (positively correlated)</Txt>
      <Txt x={124} y={455} s={4.5}>Zero cross at 15987</Txt>
      <Txt x={151} y={479} s={4.5} fill="#2020e0">'na_neg' (negatively correlated)</Txt>
      <Txt x={152} y={495} s={5.5} a="middle">Rank in Ordered Dataset</Txt>
      <rect x={69} y={497} width={144} height={11} fill="#fff" stroke="#666" strokeWidth={0.6} />
      <line x1={71} x2={80} y1={502.5} y2={502.5} stroke="#22e01e" strokeWidth={1.2} />
      <Txt x={82} y={504.5} s={5}>Enrichment profile</Txt>
      <line x1={119} x2={126} y1={502.5} y2={502.5} stroke="#000" strokeWidth={1} />
      <Txt x={128} y={504.5} s={5}>Hits</Txt>
      <line x1={144} x2={152} y1={502.5} y2={502.5} stroke="#bbb" strokeWidth={1} />
      <Txt x={155} y={504.5} s={5}>Ranking metric scores</Txt>

      {/* F */}
      <Txt x={343} y={282} s={16.5}>Spearman: 0.37</Txt>
      <Txt x={343} y={303} s={16.5}>p &lt; 0.001</Txt>
      <Txt x={298} y={386} s={17} rot><It>TGFB1</It> Expression</Txt>
      <Txt x={404} y={495} s={17} a="middle"><It>CD70</It> Expression</Txt>

      {/* G */}
      <Txt x={627} y={293} s={16.5} a="middle">H1975</Txt>
      <Txt x={720} y={293} s={16.5} a="middle">HCC827</Txt>
      <Txt x={835} y={293} s={16.5} a="middle">HCC4006</Txt>
      <Txt x={537} y={384} s={16} rot><It>ZEB1</It> mRNA</Txt>
      <Txt x={556} y={384} s={16} rot>Relative to Control</Txt>
      <Txt x={531} y={483} s={17}>TGF-β</Txt>

      {/* H */}
      <Txt x={105} y={549} s={16.5} a="middle">H1975</Txt>
      <Txt x={200} y={549} s={16.5} a="middle">HCC827</Txt>
      <Txt x={315} y={549} s={16.5} a="middle">HCC4006</Txt>
      <Txt x={15} y={641} s={16.5} rot><It>CD70</It> mRNA</Txt>
      <Txt x={33} y={641} s={16.5} rot>Relative to Control</Txt>
      <Txt x={9} y={742} s={16.5}>TGF-β</Txt>

      {/* I */}
      <Txt x={453} y={549} s={16.5} a="middle">H1975</Txt>
      <Txt x={580} y={549} s={16.5} a="middle">HCC827</Txt>
      <Txt x={682} y={549} s={16.5} a="middle">HCC4006</Txt>
      <Txt x={398} y={638} s={16} rot>% CD70 Positive Cells</Txt>
      <Txt x={380} y={741} s={16.5}>TGF-β</Txt>

      {/* J */}
      <Txt x={812} y={552} s={14}>p = 4.08e-5</Txt>
      <Txt x={758} y={612} s={17} rot><It>CD70</It> RNA Expression</Txt>
      <Txt x={838} y={740} s={17} a="middle">Methylation Level</Txt>

      {/* K */}
      <Txt x={82} y={807} s={15}>p = 0.034</Txt>
      <Txt x={14} y={882} s={17} rot>CD70 Promoter</Txt>
      <Txt x={32} y={883} s={17} rot>Methylation</Txt>

      {/* L */}
      <Txt x={201} y={889} s={17} rot>CD70 Promoter Methylation</Txt>
      <Txt x={220} y={892} s={17} rot>Relative to Parental</Txt>
      <PMark x={261} y={990} />
      <line x1={265} x2={328} y1={1018} y2={1018} stroke={RED} strokeWidth={1.5} />
      <Txt x={294} y={1032} s={15} a="middle" fill={RED}>EMT</Txt>
      <PMark x={375} y={1010} />
      <line x1={383} x2={447} y1={1033} y2={1033} stroke={RED} strokeWidth={1.5} />
      <Txt x={413} y={1047} s={15} a="middle" fill={RED}>EMT</Txt>
      <PMark x={498} y={1008} />
      <Txt x={513} y={1031} s={15} a="middle" fill={RED}>*</Txt>
      <Txt x={503} y={1048} s={15} a="middle" fill={RED}><It>MET</It></Txt>
      <line x1={527} x2={563} y1={1028} y2={1028} stroke={RED} strokeWidth={1.5} />
      <Txt x={545} y={1041} s={15} a="middle" fill={RED}>EMT</Txt>
      <PMark x={617} y={982} />
      <line x1={625} x2={653} y1={1001} y2={1001} stroke={RED} strokeWidth={1.5} />
      <Txt x={640} y={1017} s={15} a="middle" fill={RED}>T790M</Txt>

      {/* M */}
      <Txt x={797} y={785} s={17} a="middle">HCC827</Txt>
      <Txt x={890} y={785} s={17} a="middle">H1975</Txt>
      <Txt x={711} y={872} s={17} rot><It>CD70</It> mRNA</Txt>
      <Txt x={731} y={878} s={17} rot>Relative to Control</Txt>
      <Txt x={826} y={872} s={17} rot><It>CD70</It> mRNA</Txt>
      <Txt x={846} y={878} s={17} rot>Relative to Control</Txt>
    </svg>
  );
}

export default function App() {
  const oneDec = (v: number) => String(v);
  return (
    <div
      style={{
        position: "absolute",
        left: 0,
        top: 0,
        width: 921,
        height: 1050,
        background: "#fff",
        fontFamily: FONT,
        overflow: "hidden",
      }}
    >
      {/* A */}
      <ScatterPanel r={{ x0: 30, y0: 67, x1: 153, y1: 183 }} pts={tcgaEmt} xd={[-0.3, 9.4]} yd={[-4.9, 5.6]} xt={[0, 4, 8]} yt={[-4, 0, 4]} fit={tcgaEmtFit} />
      <ScatterPanel r={{ x0: 192, y0: 67, x1: 310, y1: 183 }} pts={tcgaZeb} xd={[-0.3, 9.05]} yd={[5.0, 11.44]} xt={[0, 4, 8]} yt={[6, 8, 10]} fit={tcgaZebFit} />
      {/* B */}
      <ScatterPanel r={{ x0: 372, y0: 67, x1: 490, y1: 183 }} pts={nsclcEmt} xd={[4.05, 12.9]} yd={[-3.13, 2.82]} xt={[6, 8, 10, 12]} yt={[-2, 0, 2]} fit={nsclcEmtFit} rad={0.9} fill="#555" />
      <ScatterPanel r={{ x0: 528, y0: 68, x1: 643, y1: 183 }} pts={nsclcZeb} xd={[4.07, 12.3]} yd={[3.75, 6.94]} xt={[6, 8, 10, 12]} yt={[4, 5, 6]} fit={nsclcZebFit} rad={0.9} fill="#555" />
      {/* C / D */}
      <BarPanel r={{ x0: 715, y0: 13, x1: 773, y1: 150 }} cats={zebCats} vals={cMean} errs={cErr} stars={zebStars} max={15} ticks={[0, 5, 10, 15]} bw={17} pad={[4, 0]} lf={15} />
      <BarPanel r={{ x0: 843, y0: 7, x1: 921, y1: 146 }} cats={zebCats} vals={dMean} errs={dErr} stars={zebStars} max={80} ticks={[0, 20, 40, 60, 80]} bw={18} pad={[14, 8]} lf={15} tf={14} />
      {/* E */}
      <GseaPanel />
      {/* F */}
      <ScatterPanel r={{ x0: 323, y0: 308, x1: 486, y1: 462 }} pts={tgfbPts} xd={[-2.4, 9.2]} yd={[7, 13.08]} xt={[0, 3, 6, 9]} yt={[7, 8, 9, 10, 11, 12, 13]} fit={tgfbFit} rad={1.3} frame={false} line="#999" font={16} />
      {/* G */}
      <BarPanel r={{ x0: 583, y0: 308, x1: 651, y1: 461 }} cats={tgfCats} vals={zebH1975} errs={zebH1975Err} stars={tgfStars} max={8} ticks={[0, 2, 4, 6, 8]} bw={19} pad={[4, 6]} signs />
      <BarPanel r={{ x0: 677, y0: 307, x1: 747, y1: 459 }} cats={tgfCats} vals={zebHcc827} errs={zebHcc827Err} stars={tgfStars} max={80} ticks={[0, 20, 40, 60, 80]} bw={19} pad={[12, 0]} signs />
      <BarPanel r={{ x0: 788, y0: 308, x1: 855, y1: 459 }} cats={tgfCats} vals={zebHcc4006} errs={zebHcc4006Err} stars={tgfStars} max={25} ticks={[0, 5, 10, 15, 20, 25]} bw={19} pad={[5, 4]} signs />
      {/* H */}
      <BarPanel r={{ x0: 68, y0: 562, x1: 138, y1: 721 }} cats={tgfCats} vals={cd70H1975} errs={cd70H1975Err} stars={tgfStars} max={15} ticks={[0, 5, 10, 15]} bw={19} pad={[5, 5]} signs />
      <BarPanel r={{ x0: 163, y0: 562, x1: 237, y1: 719 }} cats={tgfCats} vals={cd70Hcc827} errs={cd70Hcc827Err} stars={tgfStars} max={150} ticks={[0, 50, 100, 150]} bw={19} pad={[9, 5]} signs />
      <BarPanel r={{ x0: 270, y0: 562, x1: 340, y1: 718 }} cats={tgfCats} vals={cd70Hcc4006} errs={cd70Hcc4006Err} stars={tgfStars} max={60} ticks={[0, 20, 40, 60]} bw={19} pad={[5, 5]} signs />
      {/* I */}
      <BarPanel r={{ x0: 422, y0: 563, x1: 498, y1: 715 }} cats={tgfCats} vals={posH1975} errs={posH1975Err} stars={tgfStars} max={60} ticks={[0, 20, 40, 60]} bw={19} pad={[10, 2]} signs bold sf={22} />
      <BarPanel r={{ x0: 528, y0: 563, x1: 598, y1: 715 }} cats={tgfCats} vals={posHcc827} errs={posHcc827Err} stars={tgfStars} max={40} ticks={[0, 10, 20, 30, 40]} bw={19} pad={[10, 4]} signs sf={22} />
      <BarPanel r={{ x0: 632, y0: 563, x1: 701, y1: 716 }} cats={tgfCats} vals={posHcc4006} errs={posHcc4006Err} stars={tgfStars} max={20} ticks={[0, 5, 10, 15, 20]} bw={19} pad={[6, 5]} signs bold sf={22} />
      {/* J */}
      <ScatterPanel
        r={{ x0: 779, y0: 533, x1: 902, y1: 706 }}
        pts={methPts}
        xd={[-0.02, 0.98]}
        yd={[-0.17, 7.0]}
        xt={[0, 0.2, 0.4, 0.6, 0.8]}
        yt={[0, 1, 2, 3, 4, 5, 6]}
        rad={1.1}
        frame={false}
        line="#aaa"
        font={14}
        xf={(v: number) => (v === 0.2 || v === 0.6 ? "" : oneDec(v))}
        yf={(v: number) => (v % 2 === 0 ? String(v) : "")}
      />
      {/* K */}
      <KPanel />
      {/* L */}
      <BarPanel r={{ x0: 258, y0: 814, x1: 330, y1: 935 }} cats={l1Cats} vals={l1Vals} max={100} ticks={[0, 50, 100]} bw={9} lf={13} />
      <BarPanel r={{ x0: 362, y0: 811, x1: 452, y1: 935 }} cats={l2Cats} vals={l2Vals} max={100} ticks={[0, 50, 100]} bw={10} pad={[6, 6]} lf={13} />
      <BarPanel r={{ x0: 491, y0: 808, x1: 568, y1: 937 }} cats={l3Cats} vals={l3Vals} max={100} ticks={[0, 50, 100]} bw={11} lf={13} />
      <BarPanel r={{ x0: 607, y0: 811, x1: 653, y1: 940 }} cats={l4Cats} vals={l4Vals} max={100} ticks={[0, 50, 100]} bw={10} pad={[4, 0]} lf={13} />
      {/* M */}
      <BarPanel r={{ x0: 745, y0: 795, x1: 802, y1: 936 }} cats={decCats} vals={decHcc827} errs={decHcc827Err} stars={decStars} max={20} ticks={[0, 10, 20]} bw={14} pad={[16, 0]} lf={16} />
      <BarPanel r={{ x0: 857, y0: 796, x1: 921, y1: 937 }} cats={decCats} vals={decH1975} errs={decH1975Err} stars={decStars} max={6} ticks={[0, 2, 4, 6]} bw={15} pad={[16, 6]} lf={16} />
      <Overlay />
    </div>
  );
}
